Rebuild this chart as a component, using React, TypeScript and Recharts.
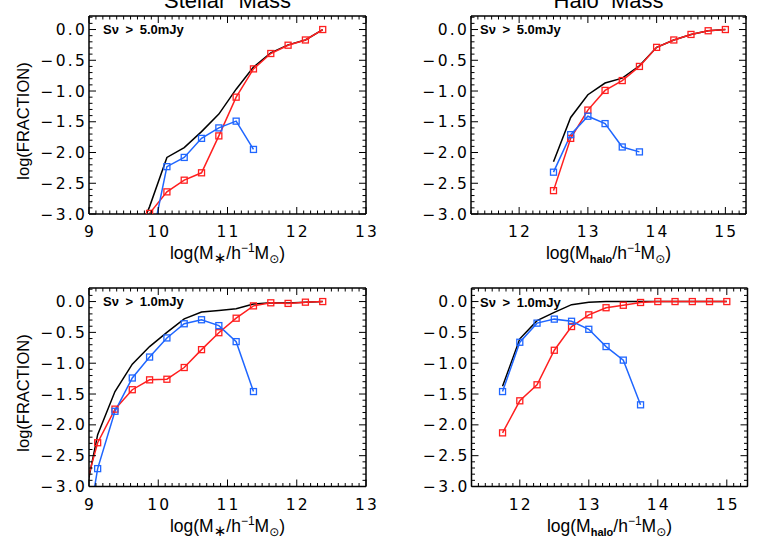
import { LineChart, Line, XAxis, YAxis } from 'recharts';

// bin centres (log mass)
const stellarBins = [8.875, 9.125, 9.375, 9.625, 9.875, 10.125, 10.375, 10.625, 10.875, 11.125, 11.375, 11.625, 11.875, 12.125, 12.375];
const haloBins = [11.75, 12.0, 12.25, 12.5, 12.75, 13.0, 13.25, 13.5, 13.75, 14.0, 14.25, 14.5, 14.75, 15.0];

// S > 5.0 mJy, stellar mass
const stellarRed5 = [null, null, null, null, -2.99, -2.64, -2.45, -2.33, -1.73, -1.1, -0.64, -0.39, -0.255, -0.17, 0.0];
const stellarBlue5 = [null, null, null, null, -3.6, -2.23, -2.08, -1.77, -1.6, -1.49, -1.95, null, null, null, null];
const stellarAll5 = [null, null, null, -3.55, -2.88, -2.08, -1.92, -1.66, -1.375, -0.97, -0.61, -0.38, -0.25, -0.17, 0.0];

// S > 5.0 mJy, halo mass
const haloRed5 = [null, null, null, -2.62, -1.77, -1.31, -0.99, -0.83, -0.6, -0.29, -0.17, -0.08, -0.02, 0.0];
const haloBlue5 = [null, null, null, -2.32, -1.71, -1.41, -1.53, -1.91, -1.99, null, null, null, null, null];
const haloAll5 = [null, null, null, -2.15, -1.43, -1.06, -0.87, -0.79, -0.59, -0.29, -0.17, -0.08, -0.02, 0.0];

// S > 1.0 mJy, stellar mass
const stellarRed1 = [-3.31, -2.29, -1.745, -1.43, -1.27, -1.26, -1.07, -0.78, -0.505, -0.27, -0.07, -0.02, -0.03, -0.01, 0.0];
const stellarBlue1 = [-4.4, -2.71, -1.78, -1.24, -0.9, -0.59, -0.36, -0.295, -0.39, -0.65, -1.46, null, null, null, null];
const stellarAll1 = [-3.54, -2.16, -1.46, -1.015, -0.73, -0.5, -0.28, -0.17, -0.145, -0.115, -0.04, -0.02, -0.025, -0.01, 0.0];

// S > 1.0 mJy, halo mass
const haloRed1 = [-2.13, -1.61, -1.35, -0.79, -0.405, -0.215, -0.1, -0.06, -0.015, 0.0, 0.0, 0.0, 0.0, 0.0];
const haloBlue1 = [-1.46, -0.66, -0.35, -0.285, -0.32, -0.45, -0.73, -0.95, -1.675, null, null, null, null, null];
const haloAll1 = [-1.375, -0.605, -0.31, -0.175, -0.05, -0.01, 0.0, 0.0, 0.0, 0.0, 0.0, 0.0, 0.0, 0.0];

const stellarMajor = [9, 10, 11, 12, 13];
const haloMajor = [12, 13, 14, 15];
const fractionMajor = [-3.0, -2.5, -2.0, -1.5, -1.0, -0.5, 0.0];

const stellarDomain = [9, 13];
const haloDomain = [11.3, 15.3];
const fractionDomain = [-3.0, 0.22];

const RED = '#ff1f1f';
const BLUE = '#1f66ff';
const FONT = '"Liberation Sans", Arial, sans-serif';

function steps(from: number, to: number, step: number) {
  const out: number[] = [];
  const n = Math.round((to - from) / step);
  for (let i = 0; i <= n; i++) out.push(Math.round((from + i * step) * 1000) / 1000);
  return out;
}

const isMajor = (v: number, majors: number[]) => majors.some((m) => Math.abs(m - v) < 1e-6);
const fmtY = (v: number) => (v < 0 ? '\u2212' + Math.abs(v).toFixed(1) : v.toFixed(1));

const tickText = { fontFamily: '"DejaVu Sans", sans-serif', fontSize: 15.5, letterSpacing: 2.2, fill: '#000' };

const SquareDot = (props: any) => {
  const { cx, cy, stroke, value, index } = props;
  if (cx == null || cy == null || value == null) return <g key={index} />;
  return <rect key={index} x={cx - 3} y={cy - 3} width={6} height={6} fill="none" stroke={stroke} strokeWidth={1.3} />;
};

function Panel({ left, top, margin, bins, red, blue, black, xDomain, xMajor }: any) {
  const data = bins.map((x: number, i: number) => ({ x, red: red[i], blue: blue[i], black: black[i] }));
  const xTicks = steps(xDomain[0], xDomain[1], 0.1);
  const yTicks = steps(-3.0, 0.2, 0.1);
  const axisLine = { stroke: '#000', strokeWidth: 1.5 };

  const bottomTick = ({ x, y, payload }: any) => {
    const major = isMajor(payload.value, xMajor);
    return (
      <g>
        <line x1={x} x2={x} y1={y} y2={y - (major ? 7 : 3.5)} stroke="#000" strokeWidth={1} />
        {major && (
          <text x={x + 1} y={y + 23} textAnchor="middle" {...tickText}>
            {String(payload.value)}
          </text>
        )}
      </g>
    );
  };
  const topTick = ({ x, y, payload }: any) => {
    const major = isMajor(payload.value, xMajor);
    return <line x1={x} x2={x} y1={y} y2={y + (major ? 7 : 3.5)} stroke="#000" strokeWidth={1} />;
  };
  const leftTick = ({ x, y, payload }: any) => {
    const major = isMajor(payload.value, fractionMajor);
    return (
      <g>
        <line x1={x} x2={x + (major ? 7 : 3.5)} y1={y} y2={y} stroke="#000" strokeWidth={1} />
        {major && (
          <text x={x - 2} y={y} dy="0.36em" textAnchor="end" {...tickText}>
            {fmtY(payload.value)}
          </text>
        )}
      </g>
    );
  };
  const rightTick = ({ x, y, payload }: any) => {
    const major = isMajor(payload.value, fractionMajor);
    return <line x1={x} x2={x - (major ? 7 : 3.5)} y1={y} y2={y} stroke="#000" strokeWidth={1} />;
  };

  return (
    <div style={{ position: 'absolute', left, top }}>
      <LineChart width={380} height={270} data={data} margin={margin}>
        <XAxis dataKey="x" type="number" domain={xDomain} allowDataOverflow ticks={xTicks} interval={0}
          height={50} tickSize={0} tickMargin={0} tickLine={false} axisLine={axisLine} tick={bottomTick} />
        <XAxis xAxisId="top" orientation="top" dataKey="x" type="number" domain={xDomain} allowDataOverflow ticks={xTicks}
          interval={0} height={2} tickSize={0} tickMargin={0} tickLine={false} axisLine={axisLine} tick={topTick} />
        <YAxis type="number" domain={fractionDomain} allowDataOverflow ticks={yTicks} interval={0}
          width={60} tickSize={0} tickMargin={0} tickLine={false} axisLine={axisLine} tick={leftTick} />
        <YAxis yAxisId="right" orientation="right" type="number" domain={fractionDomain} allowDataOverflow ticks={yTicks}
          interval={0} width={2} tickSize={0} tickMargin={0} tickLine={false} axisLine={axisLine} tick={rightTick} />
        <Line dataKey="black" type="linear" stroke="#000" strokeWidth={1.5} dot={false} activeDot={false} isAnimationActive={false} />
        <Line dataKey="red" type="linear" stroke={RED} strokeWidth={1.5} dot={SquareDot} activeDot={false} isAnimationActive={false} />
        <Line dataKey="blue" type="linear" stroke={BLUE} strokeWidth={1.5} dot={SquareDot} activeDot={false} isAnimationActive={false} />
      </LineChart>
    </div>
  );
}

const XLabel = ({ x, y, halo }: { x: number; y: number; halo: boolean }) => (
  <text x={x} y={y} textAnchor="middle" fontFamily={FONT} fontSize={17.5}>
    log(M
    {halo ? (
      <tspan dy={4} fontSize={11} fontWeight="bold">halo</tspan>
    ) : (
      <tspan dy={4} fontSize={15} fontFamily="DejaVu Sans">{'\u2217'}</tspan>
    )}
    <tspan dy={-4}>/h</tspan>
    <tspan dy={-7} fontSize={12}>{'\u2212'}1</tspan>
    <tspan dy={7}>M</tspan>
    <tspan dy={4} fontSize={12} fontFamily="DejaVu Sans">{'\u2299'}</tspan>
    <tspan dy={-4}>)</tspan>
  </text>
);

const YLabel = ({ x, y }: { x: number; y: number }) => (
  <text x={x} y={y} textAnchor="middle" fontFamily={FONT} fontSize={16.5} transform={`rotate(-90 ${x} ${y})`}>
    log(FRACTION)
  </text>
);

const Note = ({ x, y, text }: { x: number; y: number; text: string }) => (
  <text x={x} y={y} fontFamily={FONT} fontSize={13} fontWeight="bold" wordSpacing={3}>
    {text}
  </text>
);

export default function App() {
  return (
    <div style={{ position: 'absolute', left: 0, top: 0, width: 763, height: 545, background: '#fff', overflow: 'hidden' }}>
      <Panel left={0} top={0} margin={{ top: 14, right: 12, bottom: 6, left: 29 }} bins={stellarBins}
        red={stellarRed5} blue={stellarBlue5} black={stellarAll5} xDomain={stellarDomain} xMajor={stellarMajor} />
      <Panel left={380} top={0} margin={{ top: 14, right: 12, bottom: 6, left: 31 }} bins={haloBins}
        red={haloRed5} blue={haloBlue5} black={haloAll5} xDomain={haloDomain} xMajor={haloMajor} />
      <Panel left={0} top={270} margin={{ top: 16, right: 12, bottom: 3.5, left: 29 }} bins={stellarBins}
        red={stellarRed1} blue={stellarBlue1} black={stellarAll1} xDomain={stellarDomain} xMajor={stellarMajor} />
      <Panel left={380} top={270} margin={{ top: 16, right: 10.5, bottom: 3.5, left: 31.5 }} bins={haloBins}
        red={haloRed1} blue={haloBlue1} black={haloAll1} xDomain={haloDomain} xMajor={haloMajor} />
      <svg width={763} height={545} style={{ position: 'absolute', left: 0, top: 0, pointerEvents: 'none' }}>
        <text x={227.5} y={7.5} textAnchor="middle" fontFamily={FONT} fontSize={22} wordSpacing={6}>Stellar Mass</text>
        <text x={608.5} y={7.5} textAnchor="middle" fontFamily={FONT} fontSize={22} wordSpacing={6}>Halo Mass</text>
        <YLabel x={29} y={121} />
        <YLabel x={29} y={393} />
        <XLabel x={227.5} y={259} halo={false} />
        <XLabel x={608.5} y={259} halo={true} />
        <XLabel x={227.5} y={532} halo={false} />
        <XLabel x={609.5} y={532} halo={true} />
        <Note x={103} y={33.5} text={'S\u03bd > 5.0mJy'} />
        <Note x={480} y={33.5} text={'S\u03bd > 5.0mJy'} />
        <Note x={103} y={306} text={'S\u03bd > 1.0mJy'} />
        <Note x={480} y={306.5} text={'S\u03bd > 1.0mJy'} />
      </svg>
    </div>
  );
}
